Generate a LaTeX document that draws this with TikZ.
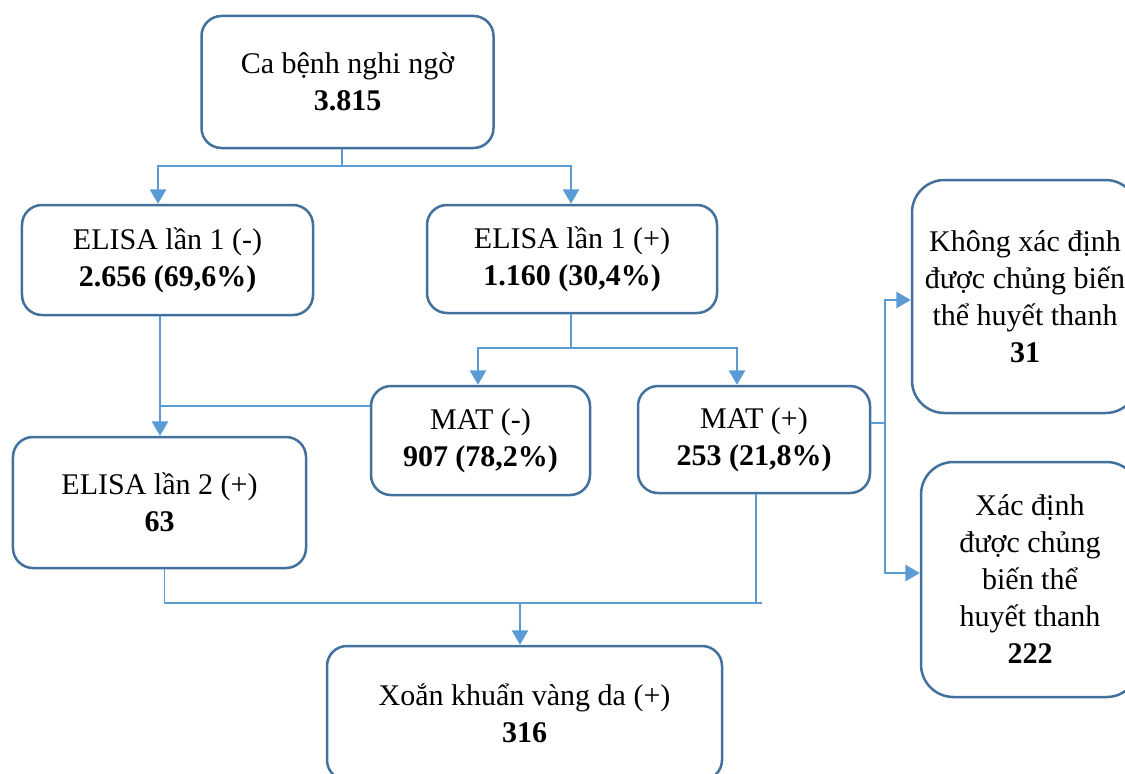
\documentclass[tikz,border=0pt]{standalone}
\usepackage{fontspec}
\setmainfont{Liberation Serif}
\usepackage{xcolor}
\usetikzlibrary{arrows.meta, positioning, calc}
\definecolor{clrBorder}{HTML}{41719C}
\definecolor{clrLink}{HTML}{5B9BD5}

\begin{document}
\begin{tikzpicture}[
    x=0.4pt, y=-0.4pt,
    stage/.style={rectangle, draw=clrBorder, fill=white, line width=1pt, rounded corners=8pt, align=center, inner sep=0pt, font=\fontsize{12}{14.8}\selectfont},
    result/.style={stage, rounded corners=13pt},
    link/.style={line width=0.6pt, clrLink},
    arrow/.style={-{Triangle[length=5.8pt, width=6.6pt]}, line width=0.6pt, clrLink},
]
\useasboundingbox (0,0) rectangle (1125,773);
\clip (0,0) rectangle (1125,773);

% Screening
\node[stage, minimum width=116.8pt, minimum height=52.8pt] (susp) at (347.5,82) {Ca bệnh nghi ngờ\\\textbf{3.815}};
\node[stage, minimum width=116.4pt, minimum height=44pt] (eneg) at (167.5,260) {ELISA lần 1 (-)\\\textbf{2.656 (69,6\%)}};
\node[stage, minimum width=116pt, minimum height=43.2pt] (epos) at (572,259) {ELISA lần 1 (+)\\\textbf{1.160 (30,4\%)}};

% Confirmation
\node[stage, minimum width=87.6pt, minimum height=43.6pt] (matneg) at (480.5,440.5) {MAT (-)\\\textbf{907 (78,2\%)}};
\node[stage, minimum width=92.8pt, minimum height=42.8pt] (matpos) at (754,439.5) {MAT (+)\\\textbf{253 (21,8\%)}};
\node[stage, minimum width=117.2pt, minimum height=52.4pt] (etwo) at (159.5,502.5) {ELISA lần 2 (+)\\\textbf{63}};
\node[stage, minimum width=158pt, minimum height=53.6pt] (lepto) at (524.5,713) {Xoắn khuẩn vàng da (+)\\\textbf{316}};

% Serovars
\node[result, minimum width=90.4pt, minimum height=93.2pt] (unk) at (1025,296.5) {Không xác định\\được chủng biến\\thể huyết thanh\\\textbf{31}};
\node[result, minimum width=87.2pt, minimum height=94pt] (known) at (1030,579.5) {Xác định\\được chủng\\biến thể\\huyết thanh\\\textbf{222}};

% Junctions
\coordinate (busTop) at (342,166);
\coordinate (busMat) at (571,348);
\coordinate (busL) at (160,406);
\coordinate (busBot) at (520,603);
\coordinate (busEnd) at (762,603);
\coordinate (busR) at (885,423);

% Connectors
\draw[link] (susp.south -| busTop) -- (busTop);
\draw[arrow] (busTop) -| ([xshift=-3.8pt]eneg.north);
\draw[arrow] (busTop) -| ([xshift=-0.4pt]epos.north);

\draw[link] (epos.south -| busMat) -- (busMat);
\draw[arrow] (busMat) -| ([xshift=-1pt]matneg.north);
\draw[arrow] (busMat) -| ([xshift=-6.8pt]matpos.north);

\draw[arrow] (eneg.south -| busL) -- (etwo.north -| busL);
\draw[link] (matneg.west |- busL) -- (busL);

\draw[link] ([xshift=2pt]etwo.south) |- (busEnd);
\draw[link] ([xshift=0.8pt]matpos.south) -- ([xshift=0.8pt]matpos.south |- busEnd);
\draw[arrow] (busBot) -- (lepto.north -| busBot);

\draw[link] (matpos.east |- busR) -- (busR);
\draw[arrow] (busR) |- (unk.west |- 0,300);
\draw[arrow] (busR) |- (known.west |- 0,573);

\end{tikzpicture}
\end{document}
